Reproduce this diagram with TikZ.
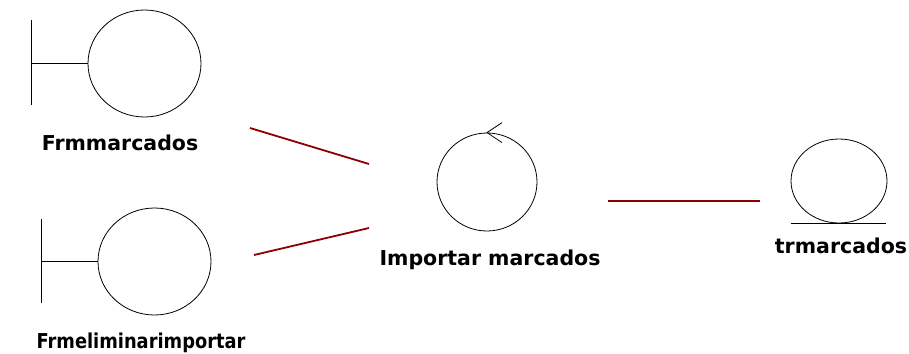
\documentclass[tikz,border=0pt]{standalone}
\usepackage{fontspec}
\setmainfont{DejaVu Sans}
\usetikzlibrary{arrows.meta,positioning,shapes.geometric}
\definecolor{linkred}{RGB}{140,0,0}

\begin{document}
\begin{tikzpicture}[x=1pt,y=-1pt,
obj/.style={draw,ellipse,inner sep=0pt,line width=0.8pt},
lbl/.style={font=\fontsize{20.5}{24}\selectfont\bfseries,anchor=base,inner sep=0pt},
link/.style={draw=linkred,line width=1.8pt}]
\useasboundingbox (0,0) rectangle (909,353);
% boundary objects
\node[obj,minimum width=113pt,minimum height=107pt] (frm1) at (144.5,63.5) {};
\draw[line width=0.8pt] (frm1.west) -- ++(-56,0) coordinate (frm1bar);
\draw[line width=0.8pt] ([yshift=-41pt]frm1bar) -- ([yshift=43pt]frm1bar);
\node[lbl] (frm1lbl) at (120,150) {Frmmarcados};
\node[obj,minimum width=113pt,minimum height=107pt] (frm2) at (154.5,261.5) {};
\draw[line width=0.8pt] (frm2.west) -- ++(-56,0) coordinate (frm2bar);
\draw[line width=0.8pt] ([yshift=-41pt]frm2bar) -- ([yshift=43pt]frm2bar);
\node[lbl] (frm2lbl) at (141,348) {\scalebox{0.87}[1]{Frmeliminarimportar}};
% control object
\node[obj,minimum width=100pt,minimum height=98pt] (ctl) at (487,182) {};
\draw[line width=0.8pt] ([shift={(15pt,10pt)}]ctl.north) -- (ctl.north) -- ([shift={(15pt,-10pt)}]ctl.north);
\node[lbl] (ctllbl) at (490,265) {Importar marcados};
% entity object
\node[obj,minimum width=96pt,minimum height=84pt] (ent) at (839,181) {};
\draw[line width=0.8pt] ([xshift=-48pt]ent.south) -- ([xshift=47pt]ent.south);
\node[lbl] (entlbl) at (841,253) {trmarcados};
% links
\coordinate (l1a) at (250,128);
\coordinate (l1b) at (369,164);
\coordinate (l2a) at (254,255);
\coordinate (l2b) at (369,228);
\coordinate (l3a) at (608,201);
\coordinate (l3b) at (760,201);
\draw[link] (l1a) -- (l1b);
\draw[link] (l2a) -- (l2b);
\draw[link] (l3a) -- (l3b);
\end{tikzpicture}
\end{document}
